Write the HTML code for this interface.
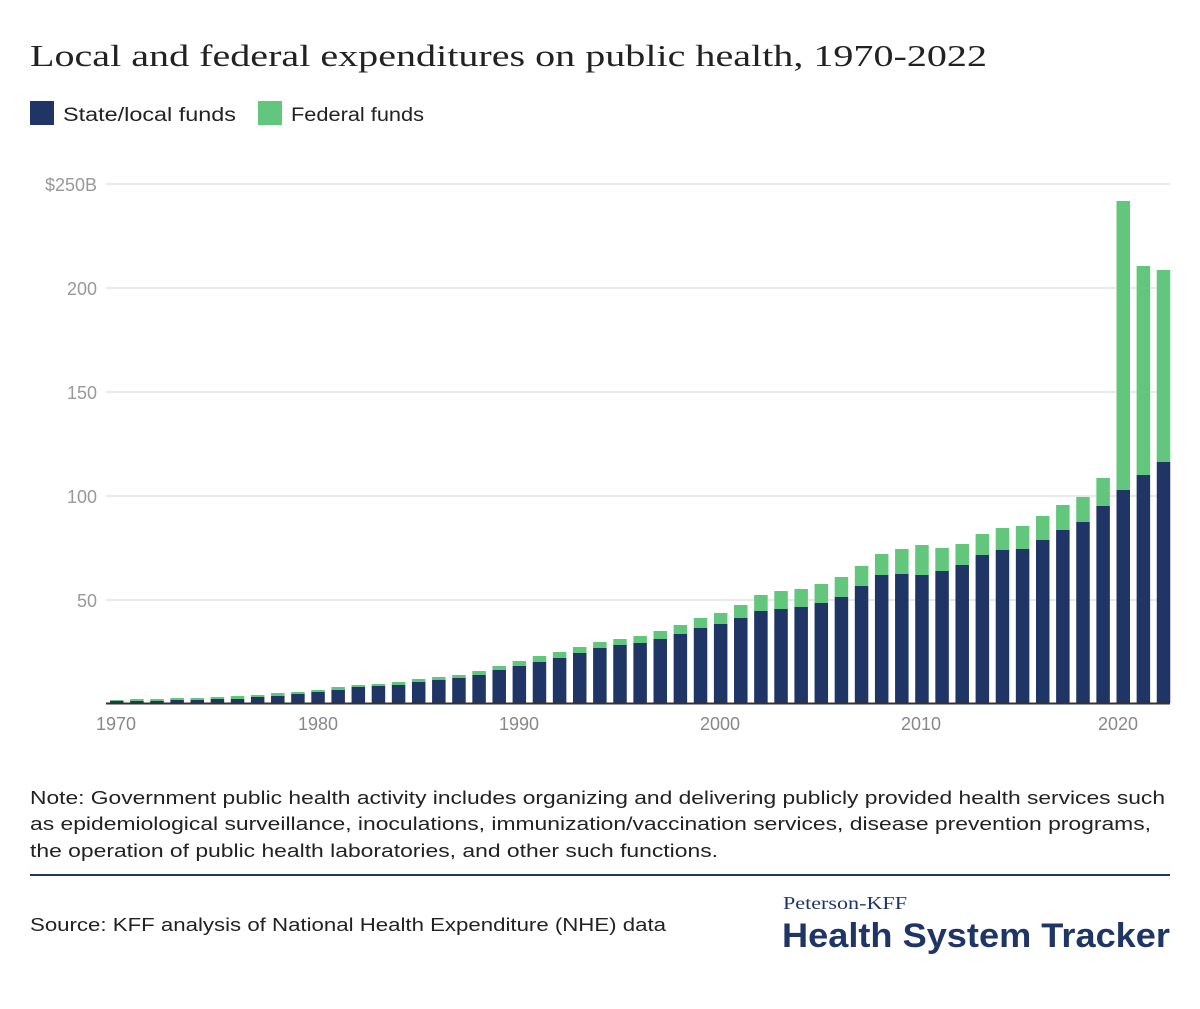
<!DOCTYPE html>
<html><head><meta charset="utf-8"><style>
body{margin:0;background:#fff;width:1200px;height:1004px;overflow:hidden;font-family:"Liberation Sans",sans-serif}
</style></head><body>
<svg width="1200" height="1004" xmlns="http://www.w3.org/2000/svg">
<text x="30" y="66" font-family="Liberation Serif, serif" font-size="31" fill="#222" textLength="957" lengthAdjust="spacingAndGlyphs">Local and federal expenditures on public health, 1970-2022</text>
<rect x="30" y="101" width="24" height="24" fill="#1f3566"/>
<text x="63" y="121" font-size="19" fill="#222" textLength="173" lengthAdjust="spacingAndGlyphs">State/local funds</text>
<rect x="258" y="101" width="24" height="24" fill="#62c67c"/>
<text x="291" y="121" font-size="19" fill="#222" textLength="133" lengthAdjust="spacingAndGlyphs">Federal funds</text>
<g stroke="#e2e2e2" stroke-width="1.5">
<line x1="106" x2="1170" y1="184" y2="184"/><line x1="106" x2="1170" y1="288" y2="288"/>
<line x1="106" x2="1170" y1="392" y2="392"/><line x1="106" x2="1170" y1="496" y2="496"/>
<line x1="106" x2="1170" y1="600" y2="600"/>
</g>
<g font-size="18" fill="#999" text-anchor="end">
<text x="97" y="191">$250B</text><text x="97" y="295">200</text><text x="97" y="399">150</text>
<text x="97" y="503">100</text><text x="97" y="607">50</text>
</g>
<g id="bars"></g>
<line x1="106" x2="1170" y1="703.5" y2="703.5" stroke="#333" stroke-width="2"/>
<g font-size="18" fill="#888" text-anchor="middle">
<text x="116" y="730">1970</text><text x="318" y="730">1980</text><text x="519" y="730">1990</text>
<text x="720" y="730">2000</text><text x="921" y="730">2010</text><text x="1118" y="730">2020</text>
</g>
<g font-size="18.5" fill="#222" lengthAdjust="spacingAndGlyphs">
<text x="30" y="804" textLength="1135" lengthAdjust="spacingAndGlyphs">Note: Government public health activity includes organizing and delivering publicly provided health services such</text>
<text x="30" y="830" textLength="1121" lengthAdjust="spacingAndGlyphs">as epidemiological surveillance, inoculations, immunization/vaccination services, disease prevention programs,</text>
<text x="30" y="857" textLength="688" lengthAdjust="spacingAndGlyphs">the operation of public health laboratories, and other such functions.</text>
<text x="30" y="931" textLength="636" lengthAdjust="spacingAndGlyphs">Source: KFF analysis of National Health Expenditure (NHE) data</text>
</g>
<line x1="30" x2="1170" y1="875" y2="875" stroke="#1f3566" stroke-width="2"/>
<text x="783" y="909" font-family="Liberation Serif, serif" font-size="18" fill="#1f3566" textLength="124" lengthAdjust="spacingAndGlyphs">Peterson-KFF</text>
<text x="782" y="947" font-size="34" font-weight="bold" fill="#1f3566" textLength="388" lengthAdjust="spacingAndGlyphs">Health System Tracker</text>
</svg>
<script>
var d=[[700,701],[699,701],[699,701],[698,700],[698,700],[697,699],[696,699],[695,697],[693,696],[692,694],[690,692],[687,690],[685,687],[684,686],[682,685],[679,682],[677,680],[675,678],[671,675],[666,670],[661,666],[656,662],[652,658],[647,653],[642,648],[639,645],[636,643],[631,639],[625,634],[618,628],[613,624],[605,618],[595,611],[591,609],[589,607],[584,603],[577,597],[566,586],[554,575],[549,574],[545,575],[548,571],[544,565],[534,555],[528,550],[526,549],[516,540],[505,530],[497,522],[478,506],[201,490],[266,475],[270,462]];
var g=document.getElementById('bars'),s='';
d.forEach(function(v,i){var x=110+i*20.13;
s+='<rect x="'+x+'" y="'+v[0]+'" width="13.5" height="'+(v[1]-v[0])+'" fill="#62c67c"/>';
s+='<rect x="'+x+'" y="'+v[1]+'" width="13.5" height="'+(703-v[1])+'" fill="#1f3566"/>';});
g.innerHTML=s;
</script>
</body></html>
